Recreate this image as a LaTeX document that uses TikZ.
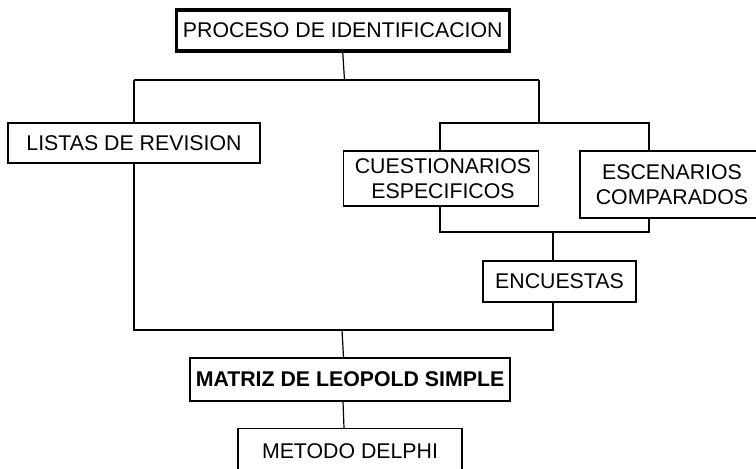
\documentclass[tikz,border=0pt]{standalone}
\usepackage{fontspec}
\setmainfont{Liberation Sans}
\tikzset{
    box/.style={draw, line width=1.2pt, inner sep=0pt, align=center,
        font=\fontsize{21.3}{25}\selectfont},
    link/.style={line width=1.2pt}
}
\begin{document}
\begin{tikzpicture}[x=1pt, y=-1pt]
            \useasboundingbox (0, 0) rectangle (756, 469);
            \clip (0, 0) rectangle (756, 469);

            \node[box, line width=3.2pt, minimum width=333pt, minimum height=41pt] (proc) at (342.75, 30.5) {PROCESO DE IDENTIFICACION};
            \node[box, minimum width=252pt, minimum height=40pt] (listas) at (134, 143) {LISTAS DE REVISION};
            \node[box, minimum width=195pt, minimum height=55pt] (cuest) at (441, 178.5) {\hspace*{4pt}CUESTIONARIOS\\ \hspace*{4pt}ESPECIFICOS};
            \node[box, minimum width=184pt, minimum height=67pt] (escen) at (672, 184.5) {ESCENARIOS\\ COMPARADOS};
            \node[box, minimum width=153pt, minimum height=41pt] (encu) at (559.5, 281.5) {ENCUESTAS};
            \node[box, font=\fontsize{21.3}{25}\selectfont\bfseries, minimum width=320pt, minimum height=43pt] (matriz) at (350, 379.5) {MATRIZ DE LEOPOLD SIMPLE};
            \node[box, anchor=north, minimum width=224pt, text height=30pt, text depth=50pt] (delphi) at (350, 428) {METODO DELPHI};

            \coordinate (top) at (344.5, 80);
            \coordinate (right) at (539, 80);
            \coordinate (pair) at (553, 232);
            \coordinate (low) at (342, 330);

            % first level
            \draw[link] (proc.south) -- (top);
            \draw[link] (134, 80) -- (right);
            \draw[link] (134, 80) -- (listas.north);
            \draw[link] (right) -- (539, 123);
            \draw[link] (cuest.north -| 440, 0) |- (649, 123) -- (escen.north -| 649, 0);

            % second level
            \draw[link] (cuest.south -| 440, 0) |- (649, 232) -- (escen.south -| 649, 0);
            \draw[link] (pair) -- (encu.north -| pair);
            \draw[link] (listas.south) |- (553, 330) -- (encu.south -| pair);

            % bottom
            \draw[link] (low) -- (matriz.north -| 343.5, 0);
            \draw[link] (matriz.south -| 343, 0) -- (delphi.north -| 344, 0);
        \end{tikzpicture}
\end{document}
